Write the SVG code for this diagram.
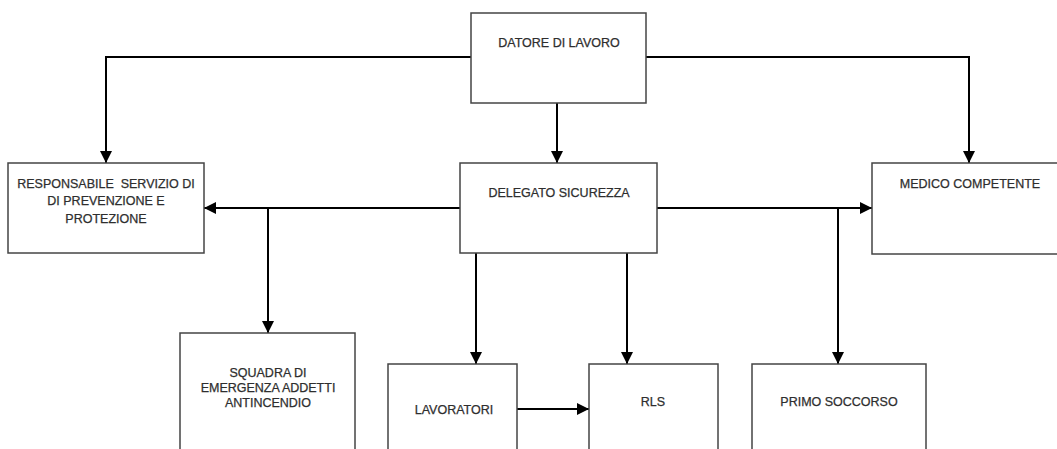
<svg xmlns="http://www.w3.org/2000/svg" width="1057" height="449" viewBox="0 0 1057 449">
<defs>
<marker id="ah" markerUnits="userSpaceOnUse" markerWidth="12" markerHeight="12" viewBox="0 0 12 12" refX="12" refY="6" orient="auto">
<path d="M0,0 L12,6 L0,12 Z" fill="#000"/>
</marker>
<style>
.box{fill:#fff;stroke:#444;stroke-width:1.5}
.t{font-family:"Liberation Sans",Arial,sans-serif;font-size:12.5px;fill:#2e2e2e;stroke:#2e2e2e;stroke-width:0.25;text-anchor:middle}
.c{fill:none;stroke:#000;stroke-width:2}
.a{marker-end:url(#ah)}
</style>
</defs>
<rect width="1057" height="449" fill="#fff"/>
<g id="connectors">
<path class="c a" d="M471,57 H106 V163"/>
<path class="c a" d="M646,57 H969 V163"/>
<path class="c a" d="M557,103 V163"/>
<path class="c a" d="M460,208 H204"/>
<path class="c a" d="M657,208 H872"/>
<path class="c a" d="M268,208 V333"/>
<path class="c a" d="M838,208 V364"/>
<path class="c a" d="M476,253 V364"/>
<path class="c a" d="M627,253 V364"/>
<path class="c a" d="M517,409 H589"/>
</g>
<g id="datore">
<rect class="box" x="471" y="13" width="175" height="90"/>
<text class="t" x="559" y="47">DATORE DI LAVORO</text>
</g>
<g id="rspp">
<rect class="box" x="8" y="163" width="196" height="90"/>
<text class="t" x="106" y="188" xml:space="preserve">RESPONSABILE  SERVIZIO DI</text>
<text class="t" x="106" y="205">DI PREVENZIONE E</text>
<text class="t" x="106" y="223">PROTEZIONE</text>
</g>
<g id="delegato">
<rect class="box" x="460" y="163" width="197" height="90"/>
<text class="t" x="559" y="197">DELEGATO SICUREZZA</text>
</g>
<g id="medico">
<rect class="box" x="872" y="163" width="190" height="91"/>
<text class="t" x="970" y="188">MEDICO COMPETENTE</text>
</g>
<g id="squadra">
<rect class="box" x="180" y="333" width="175" height="130"/>
<text class="t" x="268" y="377">SQUADRA DI</text>
<text class="t" x="268" y="392">EMERGENZA ADDETTI</text>
<text class="t" x="268" y="407">ANTINCENDIO</text>
</g>
<g id="lavoratori">
<rect class="box" x="388" y="364" width="129" height="100"/>
<text class="t" x="454" y="414">LAVORATORI</text>
</g>
<g id="rls">
<rect class="box" x="589" y="364" width="129" height="100"/>
<text class="t" x="653" y="406">RLS</text>
</g>
<g id="primo">
<rect class="box" x="752" y="364" width="174" height="100"/>
<text class="t" x="839" y="406">PRIMO SOCCORSO</text>
</g>
</svg>
